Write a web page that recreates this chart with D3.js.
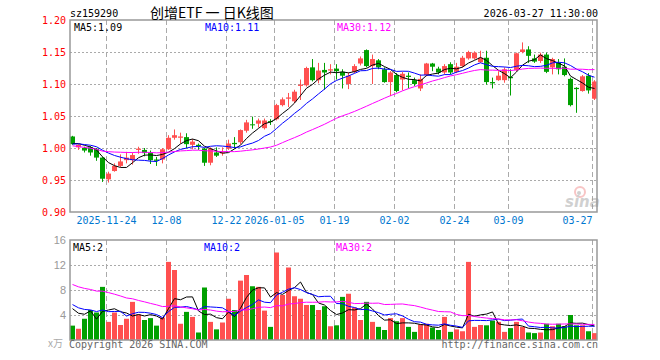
<!DOCTYPE html>
<html>
<head>
<meta charset="utf-8">
<script src="https://cdn.jsdelivr.net/npm/d3@7"></script>
<style>body{margin:0;background:#fff}</style>
</head>
<body>
<script>
// daily K-line of sz159290, 2025-11-14 .. 2026-03-27

var dates = [
  "2025-11-14","2025-11-17","2025-11-18","2025-11-19","2025-11-20","2025-11-21","2025-11-24","2025-11-25","2025-11-26","2025-11-27","2025-11-28",
  "2025-12-01","2025-12-02","2025-12-03","2025-12-04","2025-12-05","2025-12-08","2025-12-09","2025-12-10","2025-12-11","2025-12-12",
  "2025-12-15","2025-12-16","2025-12-17","2025-12-18","2025-12-19","2025-12-22","2025-12-23","2025-12-24","2025-12-25","2025-12-26",
  "2025-12-29","2025-12-30","2025-12-31",
  "2026-01-05","2026-01-06","2026-01-07","2026-01-08","2026-01-09","2026-01-12","2026-01-13","2026-01-14","2026-01-15","2026-01-16",
  "2026-01-19","2026-01-20","2026-01-21","2026-01-22","2026-01-23","2026-01-26","2026-01-27","2026-01-28","2026-01-29","2026-01-30",
  "2026-02-02","2026-02-03","2026-02-04","2026-02-05","2026-02-06","2026-02-09","2026-02-10","2026-02-11","2026-02-12","2026-02-13",
  "2026-02-24","2026-02-25","2026-02-26","2026-02-27",
  "2026-03-02","2026-03-03","2026-03-04","2026-03-05","2026-03-06","2026-03-09","2026-03-10","2026-03-11","2026-03-12","2026-03-13",
  "2026-03-16","2026-03-17","2026-03-18","2026-03-19","2026-03-20","2026-03-23","2026-03-24","2026-03-25","2026-03-26","2026-03-27"
];

var open = [
  1.018,1.001,1.000,1.001,0.999,0.985,0.951,0.964,0.972,0.981,0.981,
  0.997,0.997,0.993,0.982,0.982,0.998,1.016,1.016,1.017,1.005,
  1.005,0.999,0.977,0.993,0.992,0.999,1.008,1.009,1.027,1.037,
  1.038,1.031,1.042,
  1.045,1.067,1.077,1.073,1.097,1.098,1.126,1.106,1.122,1.121,
  1.124,1.119,1.100,1.119,1.132,1.153,1.128,1.137,1.123,1.103,
  1.114,1.107,1.113,1.106,1.093,1.114,1.132,1.124,1.118,1.131,
  1.119,1.128,1.140,1.140,
  1.134,1.141,1.103,1.106,1.106,1.111,1.122,1.150,1.154,1.140,
  1.136,1.146,1.126,1.133,1.127,1.108,1.094,1.089,1.113,1.077
];
var high = [
  1.019,1.006,1.002,1.003,1.000,0.986,0.963,0.976,0.990,0.994,0.993,
  1.002,1.000,0.996,0.986,1.000,1.020,1.029,1.024,1.023,1.014,
  1.007,1.000,1.001,1.001,1.001,1.013,1.017,1.029,1.044,1.049,
  1.046,1.046,1.045,
  1.069,1.079,1.086,1.091,1.107,1.127,1.139,1.133,1.133,1.131,
  1.131,1.123,1.118,1.131,1.143,1.154,1.146,1.139,1.126,1.120,
  1.117,1.119,1.118,1.110,1.115,1.133,1.133,1.127,1.131,1.134,
  1.133,1.144,1.152,1.151,
  1.152,1.152,1.110,1.120,1.126,1.123,1.149,1.165,1.159,1.146,
  1.149,1.149,1.141,1.139,1.140,1.110,1.095,1.114,1.117,1.106
];
var low = [
  1.005,0.997,0.993,0.988,0.980,0.947,0.946,0.963,0.970,0.976,0.974,
  0.991,0.987,0.975,0.972,0.976,0.997,1.013,1.007,1.000,0.998,
  0.997,0.972,0.973,0.986,0.988,0.997,0.999,1.006,1.024,1.030,
  1.032,1.029,1.036,
  1.043,1.065,1.064,1.070,1.075,1.096,1.104,1.101,1.091,1.115,
  1.107,1.093,1.092,1.117,1.129,1.126,1.100,1.123,1.102,1.081,
  1.087,1.090,1.093,1.097,1.089,1.112,1.120,1.115,1.115,1.115,
  1.117,1.126,1.138,1.138,
  1.133,1.099,1.093,1.105,1.102,1.082,1.120,1.148,1.133,1.133,
  1.133,1.117,1.115,1.115,1.112,1.065,1.055,1.088,1.085,1.075
];
var close = [
  1.006,1.005,0.996,0.993,0.985,0.952,0.960,0.972,0.979,0.985,0.989,
  0.999,0.992,0.981,0.980,0.998,1.016,1.020,1.018,1.006,1.010,
  1.003,0.977,0.999,0.988,0.993,1.007,1.006,1.028,1.040,1.036,
  1.043,1.043,1.041,
  1.067,1.076,1.079,1.088,1.099,1.125,1.106,1.121,1.118,1.123,
  1.120,1.113,1.113,1.128,1.140,1.128,1.139,1.126,1.103,1.118,
  1.089,1.116,1.111,1.100,1.108,1.132,1.127,1.118,1.128,1.118,
  1.127,1.141,1.150,1.149,
  1.141,1.103,1.101,1.113,1.123,1.109,1.148,1.154,1.144,1.135,
  1.146,1.119,1.139,1.123,1.114,1.067,1.092,1.112,1.090,1.104
];
// volume in 万手
var volume = [
  2.3,1.8,3.4,4.8,4.4,8.5,2.9,4.4,2.4,3.4,6.1,
  4.1,3.2,3.5,2.3,3.6,12.5,11.2,2.6,4.5,3.7,
  1.2,8.4,2.9,1.7,2.8,6.6,4.8,9.5,10.4,8.6,
  8.5,4.7,2.1,
  14.0,7.2,11.6,7.0,6.6,5.6,5.6,4.8,5.4,2.2,
  2.35,6.9,7.4,5.2,3.2,6.1,2.9,2.1,1.6,3.5,
  3.0,3.5,2.1,1.3,2.5,2.6,2.0,1.6,3.7,1.3,
  1.7,1.4,12.5,2.1,
  2.4,2.35,3.1,2.9,1.3,1.9,2.9,2.1,1.2,1.1,
  1.2,2.6,2.2,2.6,2.2,4.0,2.35,2.35,1.4,1.1
];

// 29 sessions before the window, only used to start the moving averages
var prevClose = [
  1.040,1.036,1.030,1.041,1.034,0.985,0.990,0.988,0.995,0.992,
  0.987,0.993,0.990,0.996,0.989,0.992,0.994,0.988,0.991,0.991,
  1.002,1.006,1.004,1.008,1.006,1.005,1.010,1.006,1.008
];
var prevVolume = [
  13,11,10,12,9,9.8,12,11,13,10,
  12,10,11,9,12,11,9,8,9,8,
  7,6,5.6,7,6,5.5,4.2,2.1,11.0
];

var tickDates  = ["2025-11-24","2025-12-08","2025-12-22","2026-01-05","2026-01-19","2026-02-02","2026-02-24","2026-03-09","2026-03-27"];
var tickLabels = ["2025-11-24","12-08","12-22","2026-01-05","01-19","02-02","02-24","03-09","03-27"];
var priceTicks = [1.20,1.15,1.10,1.05,1.00,0.95,0.90];
var priceGrid  = [1.15,1.10,1.05,1.00,0.95];
var volTicks   = [16,12,8,4];
var maPeriods  = [5,10,30];
var maColors   = ["#000000","#0000ff","#ff00ff"];

var W = 660, H = 360;
var L = 70, R = 597;
var pTop = 20, pBot = 212, vTop = 240, vBot = 340;
var red = "#ff5050", green = "#00a000";

var svg = d3.select("body").append("svg")
    .attr("width", W).attr("height", H)
    .style("font-family", "'DejaVu Sans Mono', monospace")
    .style("font-size", "10px");
svg.append("rect").attr("width", W).attr("height", H).attr("fill", "#fff");

var n = dates.length;
var x = d3.scaleBand().domain(d3.range(n)).range([L, L + 6 * n])
    .paddingInner(1 / 6).paddingOuter(1 / 12).align(0);
var xs = d3.scaleLinear().domain([0, n]).range([L, L + 6 * n]);
var y = d3.scaleLinear().domain([0.90, 1.20]).range([pBot, pTop]);
var yv = d3.scaleLinear().domain([0, 16]).range([vBot, vTop]);
var tickIdx = tickDates.map(function (d) { return dates.indexOf(d); });

function movingAvg(prev, vals, p) {
  var all = prev.concat(vals), off = prev.length;
  return vals.map(function (v, i) {
    return d3.mean(all.slice(off + i - p + 1, off + i + 1));
  });
}

// grids
function grid(top, bot, hLines, ys) {
  svg.append("g").selectAll("line").data(hLines).enter().append("line")
      .attr("x1", L).attr("x2", R)
      .attr("y1", function (d) { return ys(d) + 0.5; }).attr("y2", function (d) { return ys(d) + 0.5; })
      .attr("stroke", "#aaa").attr("stroke-dasharray", "2,2");
  svg.append("g").selectAll("line").data(tickIdx).enter().append("line")
      .attr("x1", function (d) { return xs(d) + 0.5; }).attr("x2", function (d) { return xs(d) + 0.5; })
      .attr("y1", top).attr("y2", bot)
      .attr("stroke", "#aaa").attr("stroke-dasharray", "5,3");
}
grid(pTop, pBot, priceGrid, y);
grid(vTop, vBot, [12, 8, 4], yv);

// candles
var candles = svg.append("g").selectAll("g").data(d3.range(n)).enter().append("g")
    .attr("fill", function (i) { return close[i] >= open[i] ? red : green; })
    .attr("stroke", function (i) { return close[i] >= open[i] ? red : green; });
candles.append("line")
    .attr("x1", function (i) { return x(i) + 2.5; }).attr("x2", function (i) { return x(i) + 2.5; })
    .attr("y1", function (i) { return y(high[i]); }).attr("y2", function (i) { return y(low[i]); });
candles.append("rect")
    .attr("stroke", "none")
    .attr("x", function (i) { return x(i); })
    .attr("width", x.bandwidth())
    .attr("y", function (i) { return y(Math.max(open[i], close[i])); })
    .attr("height", function (i) { return Math.max(1, Math.abs(y(open[i]) - y(close[i]))); });

// volume bars
svg.append("g").selectAll("rect").data(d3.range(n)).enter().append("rect")
    .attr("x", function (i) { return x(i); })
    .attr("width", x.bandwidth())
    .attr("y", function (i) { return yv(volume[i]); })
    .attr("height", function (i) { return yv(0) - yv(volume[i]); })
    .attr("fill", function (i) { return close[i] >= open[i] ? red : green; });

// moving averages
var priceMA = maPeriods.map(function (p) { return movingAvg(prevClose, close, p); });
var volMA = maPeriods.map(function (p) { return movingAvg(prevVolume, volume, p); });
function maLine(ys) {
  return d3.line().x(function (d, i) { return x(i) + 2.5; }).y(function (d) { return ys(d); });
}
maPeriods.forEach(function (p, k) {
  svg.append("path").datum(priceMA[k]).attr("d", maLine(y))
      .attr("fill", "none").attr("stroke", maColors[k]).attr("stroke-width", 1);
  svg.append("path").datum(volMA[k]).attr("d", maLine(yv))
      .attr("fill", "none").attr("stroke", maColors[k]).attr("stroke-width", 1);
});

// frames
svg.append("rect").attr("x", L).attr("y", pTop).attr("width", R - L).attr("height", pBot - pTop)
    .attr("fill", "none").attr("stroke", "#999").attr("stroke-width", 1.5);
svg.append("rect").attr("x", L).attr("y", vTop).attr("width", R - L).attr("height", vBot - vTop)
    .attr("fill", "none").attr("stroke", "#999").attr("stroke-width", 1.5);

// axes
var pAxis = svg.append("g").attr("transform", "translate(" + L + ",0)")
    .call(d3.axisLeft(y).tickValues(priceTicks).tickFormat(d3.format(".2f")).tickSize(0).tickPadding(4));
pAxis.select(".domain").remove();
pAxis.selectAll("text").attr("fill", "#f00").style("font-family", "'DejaVu Sans Mono', monospace").style("font-size", "10px");

var vAxis = svg.append("g").attr("transform", "translate(" + L + ",0)")
    .call(d3.axisLeft(yv).tickValues(volTicks).tickSize(0).tickPadding(4));
vAxis.select(".domain").remove();
vAxis.selectAll("text").attr("fill", "#999").style("font-family", "'Liberation Sans', Arial").style("font-size", "11px");

var xAxis = svg.append("g").attr("transform", "translate(0," + (pBot + 4) + ")")
    .call(d3.axisBottom(xs).tickValues(tickIdx).tickFormat(function (d, k) { return tickLabels[k]; }).tickSize(0).tickPadding(0));
xAxis.select(".domain").remove();
xAxis.selectAll("text").attr("fill", "#0077d0").attr("dy", "0.75em")
    .style("font-family", "'DejaVu Sans Mono', monospace").style("font-size", "10px");
// last label is kept inside the frame
xAxis.selectAll(".tick").filter(function (d) { return d === n - 1; }).select("text")
    .attr("text-anchor", "end").attr("x", 0);

// header
svg.append("text").attr("x", L).attr("y", 17).text("sz159290");
svg.append("text").attr("x", 150).attr("y", 18)
    .style("font-family", "'Noto Sans CJK SC', sans-serif").style("font-size", "14px")
    .style("white-space", "pre")
    .text("创增ETF 一 日K线图");
svg.append("text").attr("x", R + 1).attr("y", 17).attr("text-anchor", "end").text("2026-03-27 11:30:00");

// MA legends
var legX = [74, 205, 337];
var f2 = d3.format(".2f"), f0 = d3.format(".0f");
maPeriods.forEach(function (p, k) {
  svg.append("text").attr("x", legX[k]).attr("y", 31).attr("fill", maColors[k])
      .text("MA" + p + ":" + f2(priceMA[k][n - 1]));
  svg.append("text").attr("x", legX[k] - 1).attr("y", 251).attr("fill", maColors[k])
      .text("MA" + p + ":" + f0(volMA[k][n - 1]));
});

svg.append("text").attr("x", 48).attr("y", 347).attr("fill", "#aaa")
    .style("font-family", "'Noto Sans CJK SC', sans-serif").style("font-size", "10px").text("x万");
svg.append("text").attr("x", L - 1).attr("y", 348).attr("fill", "#666").text("Copyright 2026 SINA.COM");
svg.append("text").attr("x", R + 1).attr("y", 348).attr("text-anchor", "end").attr("fill", "#666").text("http://finance.sina.com.cn");

// faint sina watermark
var wm = svg.append("g").attr("opacity", 0.45);
wm.append("circle").attr("cx", 580).attr("cy", 192).attr("r", 5)
    .attr("fill", "none").attr("stroke", "#f08080").attr("stroke-width", 2);
wm.append("circle").attr("cx", 579).attr("cy", 193).attr("r", 2).attr("fill", "#999");
wm.append("text").attr("x", 565).attr("y", 207).attr("fill", "#999")
    .style("font-family", "'DejaVu Sans', sans-serif").style("font-size", "15px")
    .style("font-style", "italic").style("font-weight", "bold").text("sina");
</script>
</body>
</html>
